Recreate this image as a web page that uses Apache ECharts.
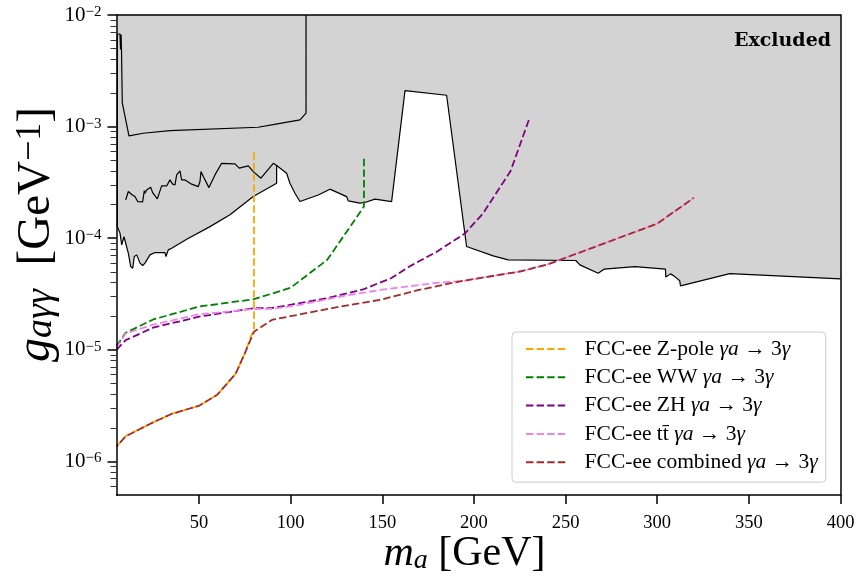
<!DOCTYPE html>
<html>
<head>
<meta charset="utf-8">
<script src="https://cdn.jsdelivr.net/npm/echarts@6/dist/echarts.min.js"></script>
<style>
  html, body { margin: 0; padding: 0; background: #fff; }
  #main { width: 858px; height: 577px; }
</style>
</head>
<body>
<div id="main"></div>
<script>
// FCC-ee projected reach, points are [m_a (GeV), g_agg (GeV^-1)]
var zpole = [[5,1.36e-6],[10,1.68e-6],[25,2.24e-6],[35,2.66e-6],[50,3.15e-6],[60,3.96e-6],[70,6.1e-6],[75,9.3e-6],[78.7,1.36e-5],[80,1.5e-5],[80,5.97e-4]];
var ww = [[5,1.08e-5],[10,1.42e-5],[25,1.87e-5],[50,2.44e-5],[80,2.84e-5],[100,3.6e-5],[120,6.4e-5],[140,1.92e-4],[140,5.38e-4]];
var zh = [[5,1.0e-5],[10,1.22e-5],[25,1.58e-5],[50,1.98e-5],[80,2.36e-5],[90,2.37e-5],[105,2.62e-5],[120,2.9e-5],[140,3.5e-5],[155,4.4e-5],[165,5.6e-5],[180,7.6e-5],[195,1.1e-4],[205,1.67e-4],[220,4.0e-4],[230,1.15e-3]];
var ttbar = [[5,1.04e-5],[10,1.4e-5],[25,1.68e-5],[50,2.08e-5],[80,2.32e-5],[90,2.33e-5],[105,2.53e-5],[127,3.0e-5],[149,3.44e-5],[178,3.95e-5],[196,4.18e-5],[225,5.03e-5],[240,5.8e-5],[300,1.35e-4],[320,2.3e-4]];
var combined = [[5,1.36e-6],[10,1.68e-6],[25,2.24e-6],[35,2.66e-6],[50,3.15e-6],[60,3.96e-6],[70,6.1e-6],[75,9.3e-6],[80,1.45e-5],[90,1.86e-5],[100,2.0e-5],[127,2.44e-5],[149,2.81e-5],[170,3.44e-5],[192,4.09e-5],[225,5.03e-5],[240,5.8e-5],[300,1.35e-4],[320,2.3e-4]];

// existing bounds (black outlines)
var boundUpper = [[5.44,1.27e-3],[5.44,6.76e-3],[6.9,6.76e-3],[7.2,4.9e-3],[7.5,6.7e-3],[7.73,4.86e-3],[8.16,4.67e-3],[8.16,1.63e-3],[11.8,8.25e-4],[19.5,8.72e-4],[34.2,9.2e-4],[82.2,9.87e-4],[90.4,1.04e-3],[105.1,1.15e-3],[108.4,1.32e-3],[108.4,1e-2]];
var boundMiddle = [[10.0,2.20e-4],[11.45,2.62e-4],[13.63,2.44e-4],[15.09,2.36e-4],[16.55,2.13e-4],[19.27,2.12e-4],[20.18,2.67e-4],[20.54,2.53e-4],[21.45,2.71e-4],[23.64,2.86e-4],[24.73,2.56e-4],[27.27,2.25e-4],[29.64,2.94e-4],[32.36,2.94e-4],[34.18,3.33e-4],[35.64,3.05e-4],[36.91,3.0e-4],[37.82,3.69e-4],[39.63,4.01e-4],[40.54,3.33e-4],[42.36,3.33e-4],[43.27,3.22e-4],[46.0,3.05e-4],[49.63,2.9e-4],[50.54,3.22e-4],[51.09,3.95e-4],[52.36,3.57e-4],[55.45,2.84e-4],[58.72,3.69e-4],[62.36,4.69e-4],[69.63,4.63e-4],[72.0,4.24e-4],[76.9,4.44e-4],[79.63,3.95e-4],[83.81,3.45e-4],[90.54,4.69e-4],[92.36,4.48e-4],[97.81,3.82e-4],[99.63,3.11e-4],[102.36,2.53e-4],[105.08,2.13e-4],[115.08,2.44e-4],[121.44,2.75e-4],[123.26,2.67e-4],[130.53,2.36e-4],[131.44,2.16e-4],[137.81,2.06e-4],[140.53,2.09e-4],[146.0,2.24e-4],[155.1,2.13e-4],[162.4,2.10e-3],[185.1,1.91e-3],[196.0,8.42e-5],[210.5,6.95e-5],[218.7,6.40e-5],[255.6,6.31e-5],[257.8,5.77e-5],[267.8,4.86e-5],[270.9,5.28e-5],[287.8,5.57e-5],[304.5,5.28e-5],[304.7,4.48e-5],[307.3,4.79e-5],[309.6,4.53e-5],[312.3,4.15e-5],[312.7,3.74e-5],[339.6,4.82e-5],[400,4.32e-5]];
var boundLower = [[5.44,1.27e-3],[5.44,1.27e-4],[6.91,1.11e-4],[7.84,8.72e-5],[9.09,1.03e-4],[10.18,1.03e-4],[11.44,7.35e-5],[12.74,5.57e-5],[13.84,5.39e-5],[14.71,6.85e-5],[16.02,7.09e-5],[17.82,5.98e-5],[19.29,5.69e-5],[20.54,5.98e-5],[23.27,7.09e-5],[26.0,7.44e-5],[31.45,7.44e-5],[32.0,6.85e-5],[33.25,7.86e-5],[35.11,8.14e-5],[43.29,9.8e-5],[56.0,1.27e-4],[66.9,1.62e-4],[79.61,2.36e-4],[92.36,3.11e-4],[92.36,4.48e-4]];

// tick labels
var xTicks = [50, 100, 150, 200, 250, 300, 350, 400];
var yDecades = [-6, -5, -4, -3, -2];

var names = [
  'FCC-ee Z-pole γa → 3γ',
  'FCC-ee WW γa → 3γ',
  'FCC-ee ZH γa → 3γ',
  'FCC-ee tt\u0304 γa → 3γ',
  'FCC-ee combined γa → 3γ'
];
var colors = ['#ffa500', '#008000', '#800080', '#ee82ee', '#a52a2a'];

var serif = '"Liberation Serif", "DejaVu Serif", serif';
var yMin = 5e-7, yMax = 1e-2;

var yMajor = yDecades.map(function (e) { return Math.pow(10, e); });
var yMinor = [];
[-7, -6, -5, -4, -3].forEach(function (e) {
  for (var m = 2; m <= 9; m++) {
    var v = m * Math.pow(10, e);
    if (v > yMin && v < yMax) yMinor.push(v);
  }
});

// lower edge of the excluded (grey) region
var cut = boundLower[boundLower.length - 1][0];
var envelope = boundLower.slice(1).concat(boundMiddle.filter(function (p) { return p[0] > cut; }));

var myChart = echarts.init(document.getElementById('main'));

function outline(data) {
  return {
    type: 'line', data: data, symbol: 'none', silent: true, z: 3,
    lineStyle: { color: '#000', width: 1.2 }
  };
}
function dashed(i, data, offset) {
  return {
    name: names[i], type: 'line', data: data, symbol: 'none', z: 4 + i,
    itemStyle: { color: colors[i] },
    lineStyle: { color: colors[i], width: 1.8, type: [7.4, 3.2], dashOffset: offset || 0 }
  };
}

var option = {
  animation: false,
  textStyle: { fontFamily: serif },
  title: {
    text: 'Excluded', right: 27, top: 32, padding: 0,
    textStyle: { fontFamily: '"DejaVu Serif", serif', fontWeight: 'bold', fontSize: 19, color: '#000' }
  },
  grid: { left: 116.5, right: 17.5, top: 15, bottom: 82, outerBoundsMode: 'none' },
  legend: {
    data: names,
    orient: 'vertical',
    left: 512, top: 332,
    padding: [6, 8, 9, 14],
    backgroundColor: 'rgba(255,255,255,0.85)',
    borderColor: '#cccccc', borderWidth: 1, borderRadius: 4,
    icon: 'path://M0,0H7.4V2H0Z M10.6,0H18V2H10.6Z M21.2,0H28.6V2H21.2Z M31.8,0H39.2V2H31.8Z',
    itemWidth: 44, itemHeight: 2, itemGap: 6.3,
    formatter: function (n) {
      return n.replace(' γa → 3γ', '') + ' {i|γa} → 3{i|γ}';
    },
    textStyle: {
      fontFamily: serif, fontSize: 21.5, color: '#000', lineHeight: 22, padding: [0, 0, 0, 12],
      rich: { i: { fontFamily: serif, fontStyle: 'italic', fontSize: 21.5, lineHeight: 22 } }
    }
  },
  xAxis: [{
    type: 'value', min: 5, max: 400, z: 10,
    axisLine: { lineStyle: { color: '#000', width: 1.5 } },
    axisTick: { length: 9, customValues: xTicks, lineStyle: { color: '#000', width: 1.5 } },
    axisLabel: { fontFamily: serif, fontSize: 18.5, color: '#000', margin: 19, customValues: xTicks },
    splitLine: { show: false },
    name: '{i|m}{s|a} [GeV]',
    nameLocation: 'middle', nameGap: 38, nameMoveOverlap: false,
    nameTextStyle: {
      fontFamily: serif, fontSize: 42, color: '#000', padding: [0, 28, 0, 0],
      rich: {
        i: { fontFamily: serif, fontStyle: 'italic', fontSize: 42 },
        s: { fontFamily: serif, fontStyle: 'italic', fontSize: 28, verticalAlign: 'bottom' }
      }
    }
  }, {
    type: 'value', min: 5, max: 400, position: 'top', z: 10,
    axisLine: { lineStyle: { color: '#000', width: 1.5 } },
    axisTick: { show: false }, axisLabel: { show: false }, splitLine: { show: false }
  }],
  yAxis: [{
    type: 'log', logBase: 10, min: yMin, max: yMax, z: 10,
    axisLine: { lineStyle: { color: '#000', width: 1.5 } },
    axisTick: { length: 9, customValues: yMajor, lineStyle: { color: '#000', width: 1.5 } },
    splitLine: { show: false },
    axisLabel: {
      margin: 15, color: '#000', customValues: yMajor,
      formatter: function (v) {
        var e = Math.round(Math.log10(v));
        return '{b|10}{s|\u2212' + (-e) + '}';
      },
      rich: {
        b: { fontFamily: serif, fontSize: 21, color: '#000' },
        s: { fontFamily: serif, fontSize: 15, color: '#000', verticalAlign: 'top' }
      }
    },
    name: '{i|g}{s|aγγ}  [GeV{p|\u22121}]',
    nameLocation: 'middle', nameGap: 56, nameRotate: 90, nameMoveOverlap: false,
    nameTextStyle: {
      fontFamily: serif, fontSize: 47, color: '#000', padding: [0, 0, 0, 41],
      rich: {
        i: { fontFamily: serif, fontStyle: 'italic', fontSize: 48 },
        s: { fontFamily: serif, fontStyle: 'italic', fontSize: 38, verticalAlign: 'bottom' },
        p: { fontFamily: serif, fontSize: 36, verticalAlign: 'top' }
      }
    }
  }, {
    type: 'log', logBase: 10, min: yMin, max: yMax, position: 'right', z: 10,
    axisLine: { lineStyle: { color: '#000', width: 1.5 } },
    axisTick: { show: false }, axisLabel: { show: false }, splitLine: { show: false }
  }, {
    // minor ticks
    type: 'log', logBase: 10, min: yMin, max: yMax, position: 'left', z: 10,
    axisLine: { show: false },
    axisTick: { length: 6, customValues: yMinor, lineStyle: { color: '#333', width: 1 } },
    axisLabel: { show: false }, splitLine: { show: false }
  }],
  series: [
    {
      type: 'line', data: envelope, symbol: 'none', silent: true, z: 1,
      lineStyle: { width: 0 },
      areaStyle: { color: '#d3d3d3', opacity: 1, origin: 'end' }
    },
    outline(boundUpper),
    outline(boundMiddle),
    outline(boundLower),
    dashed(0, zpole),
    dashed(1, ww),
    dashed(2, zh),
    dashed(3, ttbar),
    dashed(4, combined, 5.3)
  ]
};

window.onresize = myChart.resize;
myChart.setOption(option);
</script>
</body>
</html>
